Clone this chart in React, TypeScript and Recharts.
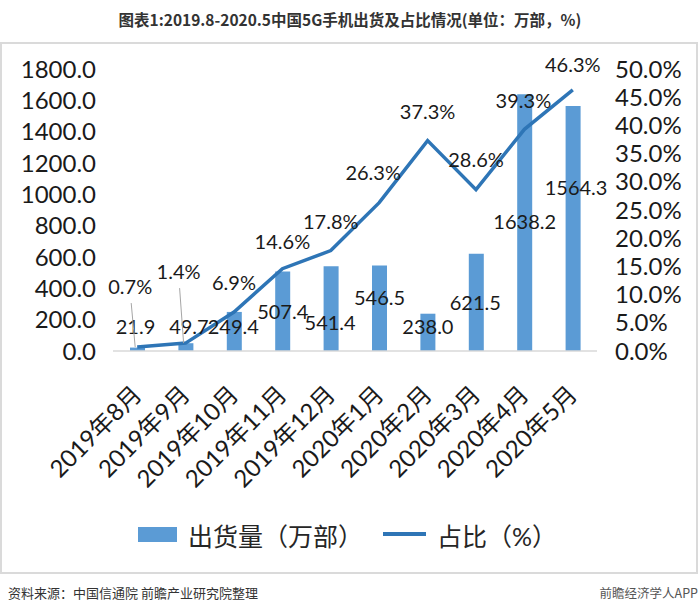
import {
  ComposedChart,
  Bar,
  Line,
  XAxis,
  YAxis,
  Legend,
  LabelList,
} from 'recharts';

// 2019.8 - 2020.5 5G phone shipments (万部) and share (%)
const months = [
  '2019年8月', '2019年9月', '2019年10月', '2019年11月', '2019年12月',
  '2020年1月', '2020年2月', '2020年3月', '2020年4月', '2020年5月',
];
const shipments = [21.9, 49.7, 249.4, 507.4, 541.4, 546.5, 238.0, 621.5, 1638.2, 1564.3];
const share = [0.7, 1.4, 6.9, 14.6, 17.8, 26.3, 37.3, 28.6, 39.3, 46.3];

const leftTicks = [0, 200, 400, 600, 800, 1000, 1200, 1400, 1600, 1800];
const rightTicks = [0, 5, 10, 15, 20, 25, 30, 35, 40, 45, 50];

// label nudges (the original data labels were dragged by hand)
const barLabelDx = [-2, 3, -1, 0, -1, 0, 0, -1, 0, 3];
const barLabelDy = [-21, -16, 15, 40, 57, 33, 13, 49, 128, 82];
const lineLabelDx = [-7, -7, 0, 0, 0, -6, 0, 0, -1, 0];
const lineLabelDy = [-60, -71, -29, -27, -29, -30, -29, -30, -28, -25];

const data = months.map((m, i) => ({ month: m, ship: shipments[i], pct: share[i] }));

const FONT = "Lato, 'Noto Sans CJK SC', sans-serif";
const BAR = '#5B9BD5';
const LINE = '#2E75B6';
const TEXT = '#1a1a1a';

function getPos(p: any) {
  const vb = p.viewBox || {};
  return {
    x: p.x ?? vb.x,
    y: p.y ?? vb.y,
    w: p.width ?? vb.width ?? 0,
  };
}

function BarLabel(p: any) {
  const { x, y, w } = getPos(p);
  const i = p.index;
  return (
    <text
      x={x + w / 2 + barLabelDx[i]}
      y={y + barLabelDy[i]}
      dy="0.35em"
      textAnchor="middle"
      fontSize={20}
      fontFamily={FONT}
      fill={TEXT}
    >
      {Number(p.value).toFixed(1)}
    </text>
  );
}

function LineLabel(p: any) {
  const { x, y } = getPos(p);
  const i = p.index;
  const lx = x + lineLabelDx[i];
  const ly = y + lineLabelDy[i];
  return (
    <g>
      {lineLabelDy[i] < -40 && (
        <line x1={lx + 1} y1={ly + 16} x2={x - 2} y2={y} stroke="#A6A6A6" strokeWidth={1} />
      )}
      <text x={lx} y={ly} dy="0.35em" textAnchor="middle" fontSize={20} fontFamily={FONT} fill={TEXT}>
        {Number(p.value).toFixed(1)}%
      </text>
    </g>
  );
}

function MonthTick(p: any) {
  const { x, y, payload } = p;
  return (
    <g transform={`translate(${x},${y + 39})`}>
      <text
        transform="rotate(-45)"
        textAnchor="end"
        dy="0.35em"
        fontSize={24}
        fontFamily={FONT}
        fill={TEXT}
      >
        {payload.value}
      </text>
    </g>
  );
}

function LegendBox() {
  return (
    <div style={{ position: 'relative', height: 30, fontFamily: FONT, fontSize: 25, color: '#262626' }}>
      <div style={{ position: 'absolute', left: 138, top: 7, width: 39, height: 15, background: BAR }} />
      <span style={{ position: 'absolute', left: 188, top: -3, whiteSpace: 'nowrap' }}>出货量（万部）</span>
      <div style={{ position: 'absolute', left: 383, top: 12, width: 43, height: 4, background: LINE }} />
      <span style={{ position: 'absolute', left: 437, top: -3, whiteSpace: 'nowrap' }}>占比（%）</span>
    </div>
  );
}

export default function App() {
  return (
    <div style={{ position: 'absolute', left: 0, top: 0, width: 700, height: 613, background: '#fff' }}>
      <div
        style={{
          position: 'absolute', left: 0, top: 8, width: 700, textAlign: 'center',
          fontFamily: "'Noto Sans CJK SC', sans-serif", fontWeight: 'bold', fontSize: 15.5, color: '#333',
        }}
      >
        图表1:2019.8-2020.5中国5G手机出货及占比情况(单位：万部，%)
      </div>
      <div
        style={{
          position: 'absolute', left: 0, top: 42, width: 694, height: 528,
          border: '2px solid #DADADA',
        }}
      />
      <div style={{ position: 'absolute', left: 0, top: 0 }}>
        <ComposedChart
          width={700}
          height={613}
          data={data}
          margin={{ top: 69, right: 0, left: 0, bottom: 0 }}
        >
          <XAxis
            dataKey="month"
            height={262}
            interval={0}
            tickLine={false}
            tickSize={0}
            tickMargin={0}
            axisLine={{ stroke: '#D9D9D9', strokeWidth: 1.5 }}
            tick={(props: any) => <MonthTick {...props} />}
          />
          <YAxis
            yAxisId="left"
            width={113}
            domain={[0, 1800]}
            ticks={leftTicks}
            interval={0}
            axisLine={false}
            tickLine={false}
            tickSize={0}
            tickMargin={17}
            tickFormatter={(v: number) => v.toFixed(1)}
            tick={{ fontSize: 24, fontFamily: FONT, fill: TEXT }}
          />
          <YAxis
            yAxisId="right"
            orientation="right"
            width={103}
            domain={[0, 50]}
            ticks={rightTicks}
            interval={0}
            axisLine={false}
            tickLine={false}
            tickSize={0}
            tickMargin={18}
            tickFormatter={(v: number) => `${v.toFixed(1)}%`}
            tick={{ fontSize: 24, fontFamily: FONT, fill: TEXT, textAnchor: 'start' }}
          />
          <Bar yAxisId="left" dataKey="ship" fill={BAR} barSize={15} isAnimationActive={false}>
            <LabelList dataKey="ship" content={(p: any) => <BarLabel {...p} />} />
          </Bar>
          <Line
            yAxisId="right"
            dataKey="pct"
            stroke={LINE}
            strokeWidth={3.5}
            dot={false}
            type="linear"
            isAnimationActive={false}
          >
            <LabelList dataKey="pct" content={(p: any) => <LineLabel {...p} />} />
          </Line>
          <Legend
            layout="horizontal"
            verticalAlign="middle"
            align="center"
            wrapperStyle={{ top: 520, left: 0, width: 700 }}
            content={() => <LegendBox />}
          />
        </ComposedChart>
      </div>
      <div
        style={{
          position: 'absolute', left: 8, top: 583, fontSize: 13,
          fontFamily: "'Noto Sans CJK SC', sans-serif", color: '#333', whiteSpace: 'nowrap',
        }}
      >
        资料来源：中国信通院 前瞻产业研究院整理
      </div>
      <div
        style={{
          position: 'absolute', right: 2, top: 583, fontSize: 12.5,
          fontFamily: "'Noto Sans CJK SC', sans-serif", color: '#555', whiteSpace: 'nowrap',
        }}
      >
        前瞻经济学人APP
      </div>
    </div>
  );
}
